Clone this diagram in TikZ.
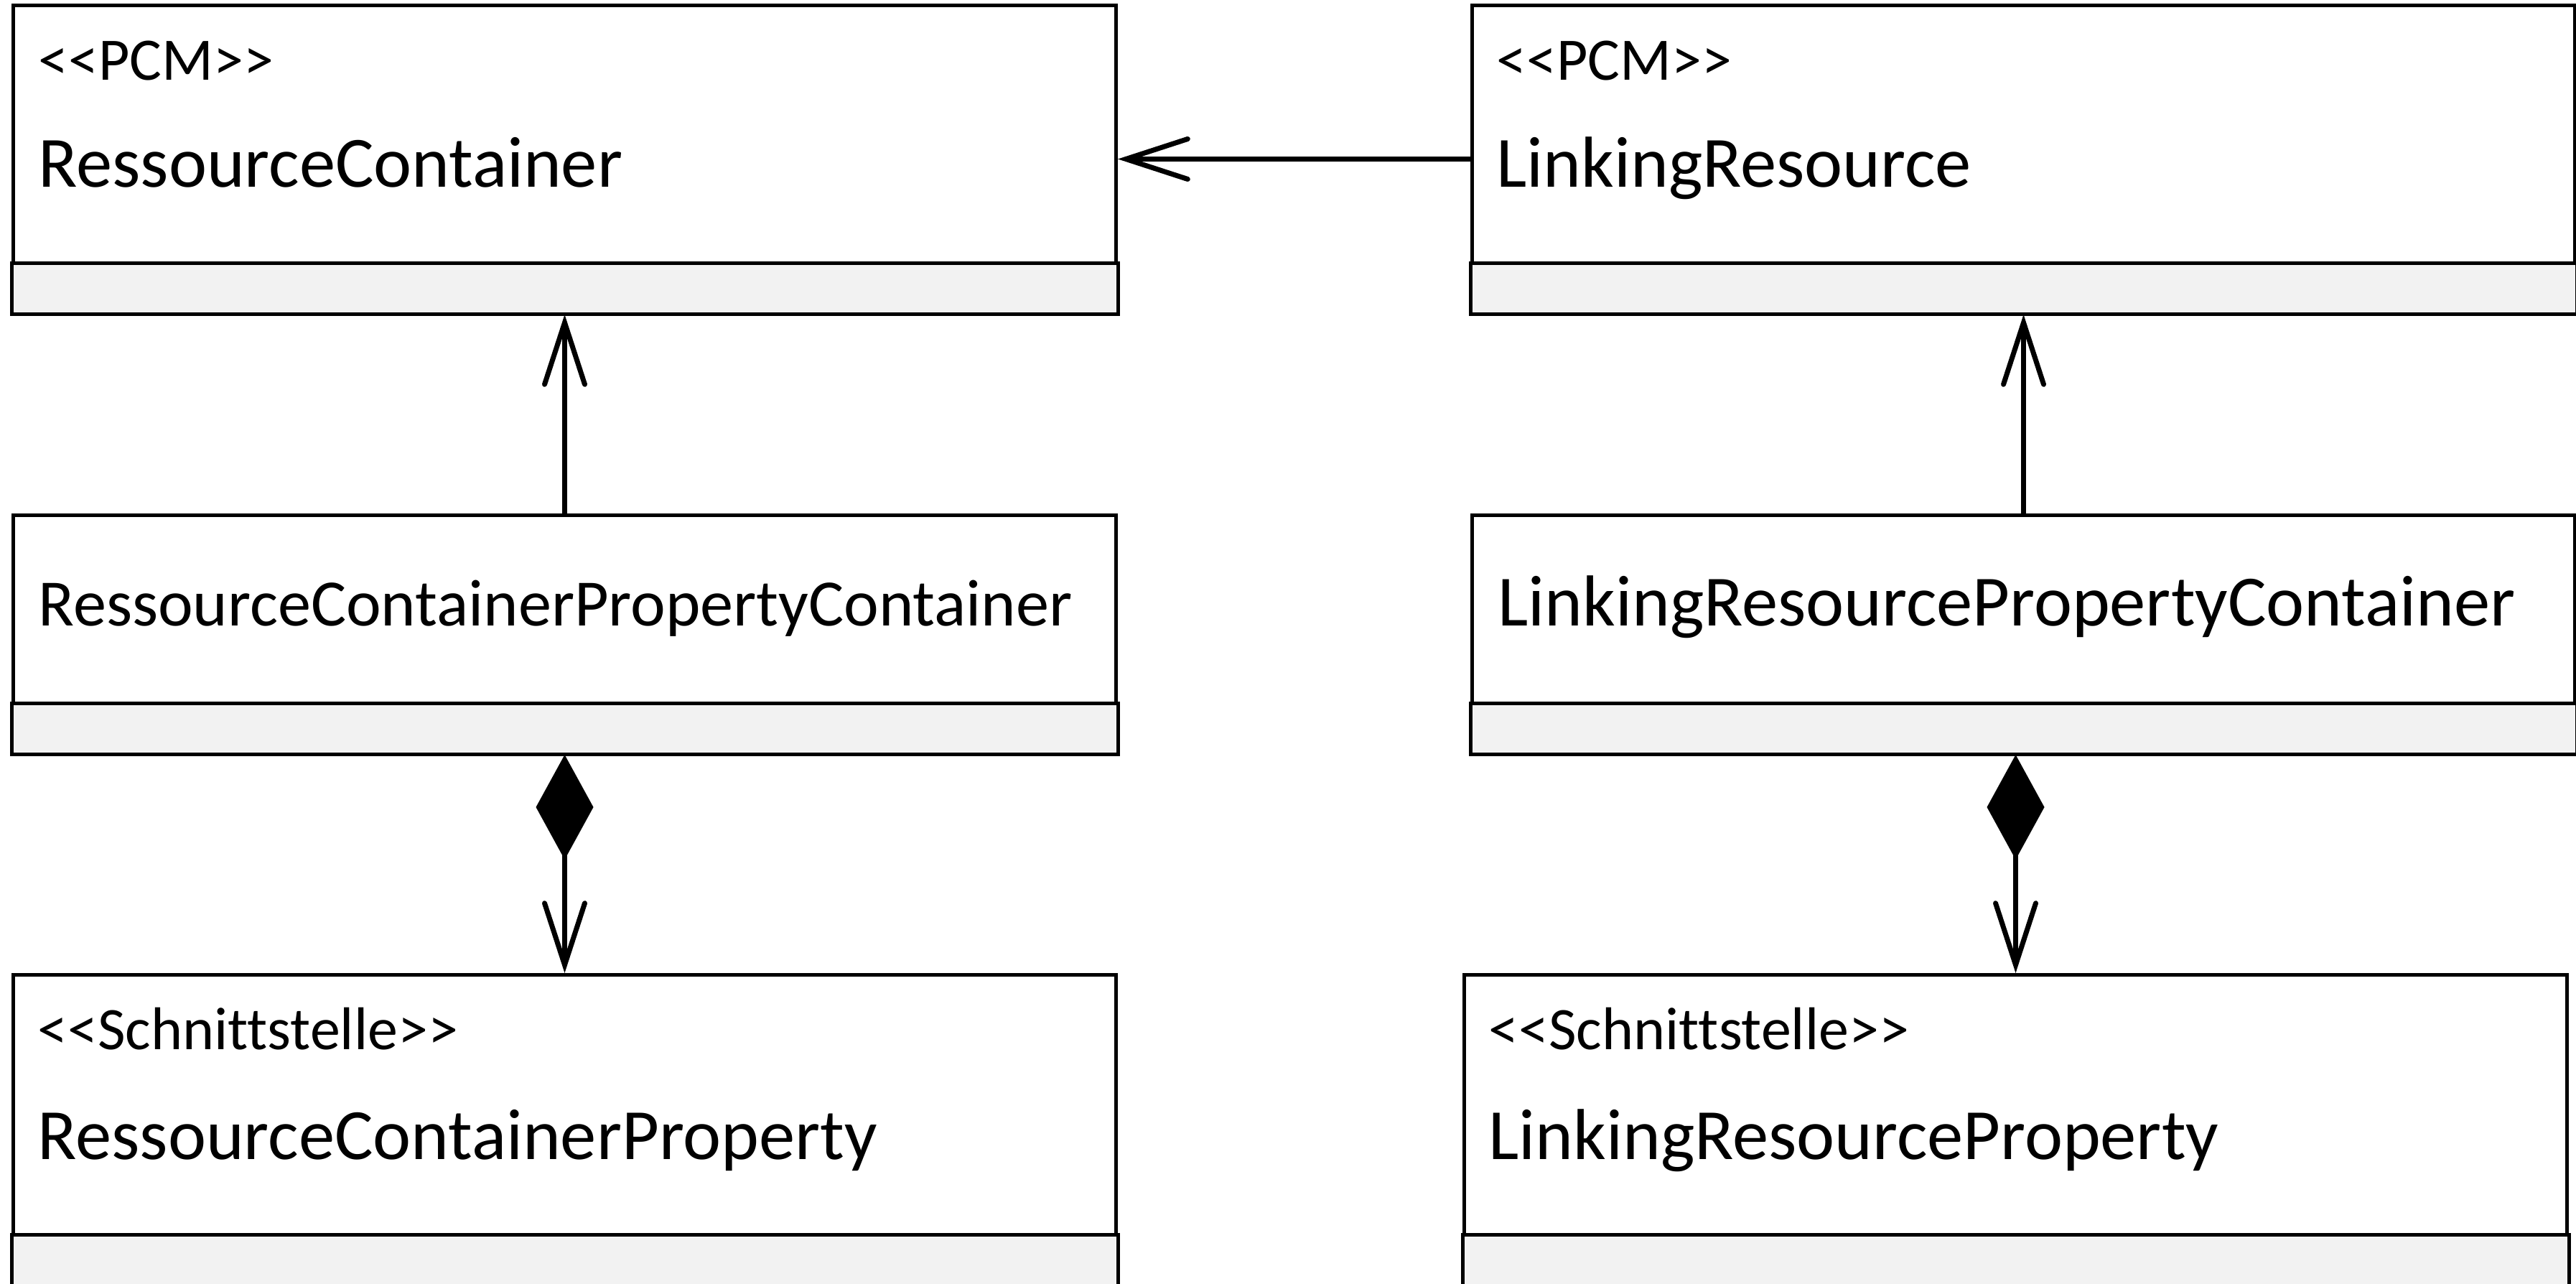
\documentclass[tikz,border=0pt]{standalone}
\usepackage{fontspec}
\setmainfont{Carlito}[Ligatures = {TeXOff, NoCommon}]
\usepackage{tikz}
\usetikzlibrary{arrows.meta}
\usetikzlibrary{positioning}
\definecolor{opsgray}{HTML}{F2F2F2}
\tikzset{classbox/.style = {draw, line width = 0.5mm, anchor = north west,
                            minimum width = 15.36cm, inner sep = 0}}
\tikzset{ops/.style = {draw, line width = 0.5mm, fill = opsgray}}
\tikzset{stereo/.style = {anchor = base west, inner sep = 0,
                          font = \fontsize{23.9}{26}\selectfont}}
\tikzset{cname/.style = {anchor = base west, inner sep = 0,
                         font = \fontsize{28.6}{31}\selectfont}}
\tikzset{cname narrow/.style = {cname, font = \fontsize{26.25}{29}\selectfont}}
\tikzset{navarrow/.style = {line width = 0.7mm,
                            -{Straight Barb[length = 8.6mm, width = 5.6mm, line cap = round]}}}
\tikzset{composition/.style = {line width = 0.7mm,
                               {Diamond[length = 14.6mm, width = 8mm]}-{Straight Barb[length = 8.6mm, width = 5.6mm, line cap = round]}}}

\begin{document}
\begin{tikzpicture}
      \useasboundingbox (0, 0) rectangle (35.88, -17.88);

      % top row
      \node [classbox, minimum height = 4.28cm] (rc) at (0.16, -0.05) {};
      \draw [ops] (rc.south west) rectangle ([yshift = 0.71cm] rc.south east);
      \node [stereo] (rc-st) at (0.53, -1.12) {<<PCM>>};
      \node [cname] (rc-name) at (0.53, -2.61) {RessourceContainer};

      \node [classbox, minimum height = 4.28cm] (lr) at (20.48, -0.05) {};
      \draw [ops] (lr.south west) rectangle ([yshift = 0.71cm] lr.south east);
      \node [stereo] (lr-st) at (20.84, -1.12) {<<PCM>>};
      \node [cname] (lr-name) at (20.84, -2.61) {LinkingResource};

      % middle row
      \node [classbox, minimum height = 3.31cm] (rcpc) at (0.16, -7.15) {};
      \draw [ops] (rcpc.south west) rectangle ([yshift = 0.71cm] rcpc.south east);
      \node [cname narrow] (rcpc-name) at (0.53, -8.72) {RessourceContainerPropertyContainer};

      \node [classbox, minimum height = 3.31cm] (lrpc) at (20.48, -7.15) {};
      \draw [ops] (lrpc.south west) rectangle ([yshift = 0.71cm] lrpc.south east);
      \node [cname] (lrpc-name) at (20.86, -8.72) {LinkingResourcePropertyContainer};

      % bottom row
      \node [classbox, minimum height = 4.30cm] (rcp) at (0.16, -13.55) {};
      \draw [ops] (rcp.south west) rectangle ([yshift = 0.71cm] rcp.south east);
      \node [stereo] (rcp-st) at (0.52, -14.61) {<<Schnittstelle>>};
      \node [cname] (rcp-name) at (0.52, -16.14) {RessourceContainerProperty};

      \node [classbox, minimum height = 4.30cm] (lrp) at (20.37, -13.55) {};
      \draw [ops] (lrp.south west) rectangle ([yshift = 0.71cm] lrp.south east);
      \node [stereo] (lrp-st) at (20.73, -14.61) {<<Schnittstelle>>};
      \node [cname] (lrp-name) at (20.73, -16.14) {LinkingResourceProperty};

      % associations
      \draw [navarrow] (lr.west) -- (rc.east);
      \draw [navarrow] (rcpc.north) -- (rc.south);
      \draw [navarrow] (lrpc.north) -- (lr.south);
      \draw [composition] (rcpc.south) -- (rcp.north);
      \draw [composition] (lrp.north |- lrpc.south) -- (lrp.north);
\end{tikzpicture}
\end{document}
